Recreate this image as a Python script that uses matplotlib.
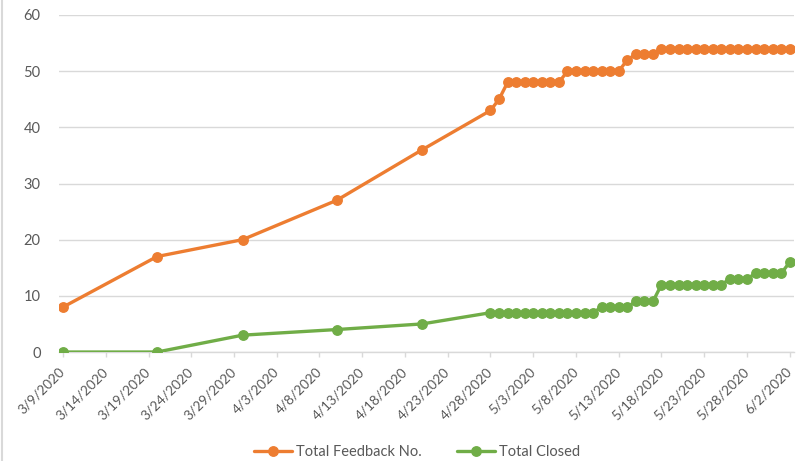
import matplotlib
matplotlib.use("Agg")
import matplotlib.pyplot as plt
import datetime as dt

plt.rcParams['font.family'] = ['Lato', 'DejaVu Sans']

dates = ["2020-03-09", "2020-03-20", "2020-03-30", "2020-04-10", "2020-04-20"] + \
    [(dt.date(2020, 4, 28) + dt.timedelta(days=i)).isoformat() for i in range(36)]

total_feedback = [8, 17, 20, 27, 36,
                  43, 45, 48, 48, 48, 48, 48, 48, 48,
                  50, 50, 50, 50, 50, 50, 50,
                  52, 53, 53, 53,
                  54, 54, 54, 54, 54, 54, 54, 54, 54, 54, 54, 54, 54, 54, 54, 54]
total_closed = [0, 0, 3, 4, 5,
                7, 7, 7, 7, 7, 7, 7, 7, 7, 7, 7, 7, 7,
                8, 8, 8, 8,
                9, 9, 9,
                12, 12, 12, 12, 12, 12, 12, 12,
                13, 13, 13,
                14, 14, 14, 14,
                16]

series_names = ["Total Feedback No.", "Total Closed"]
colors = ["#ED7D31", "#70AD47"]

x = [dt.datetime.fromisoformat(d) for d in dates]

fig = plt.figure(figsize=(7.98, 4.61), dpi=100)
ax = fig.add_axes([0.0736, 0.2364, 0.9214, 0.7311])

for vals, name, c in zip([total_feedback, total_closed], series_names, colors):
    ax.plot(x, vals, color=c, lw=2.4, marker='o', markersize=6.8, label=name,
            solid_capstyle='round', zorder=3)

start = dt.datetime(2020, 3, 9)
end = dt.datetime(2020, 6, 2)
ax.set_xlim(start - dt.timedelta(hours=12), end + dt.timedelta(hours=12))
ticks = [start + dt.timedelta(days=5 * i) for i in range(18)]
ax.set_xticks(ticks)
ax.set_xticklabels([f"{t.month}/{t.day}/{t.year}" for t in ticks], rotation=45,
                   ha='right', va='center', rotation_mode='anchor')
ax.set_ylim(0, 60)
ax.set_yticks(range(0, 61, 10))

ax.grid(axis='y', color='#D9D9D9', lw=1)
ax.set_axisbelow(True)
for s in ['top', 'right', 'left']:
    ax.spines[s].set_visible(False)
ax.spines['bottom'].set_color('#D9D9D9')
ax.spines['bottom'].set_linewidth(1)
ax.tick_params(axis='y', length=0, pad=13, labelsize=10.5, labelcolor='#595959')
ax.tick_params(axis='x', length=3.8, width=1, color='#D9D9D9', pad=9,
               labelsize=9.8, labelcolor='#595959')

leg = fig.legend(loc='center', bbox_to_anchor=(0.523, 0.019), ncol=2, frameon=False,
                 fontsize=10.5, handlelength=2.6, columnspacing=2.4, handletextpad=0.3,
                 borderpad=0)
for t in leg.get_texts():
    t.set_color('#595959')

fig.add_artist(plt.Line2D([0.002, 0.002], [0, 1], transform=fig.transFigure,
                          color='#D9D9D9', lw=1.5))

fig.savefig("out.png", dpi=100)
